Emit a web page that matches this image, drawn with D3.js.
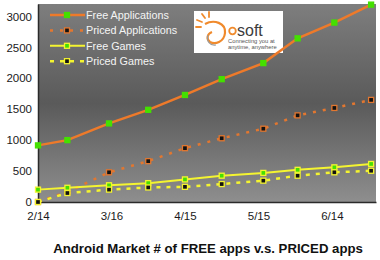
<!DOCTYPE html>
<html>
<head>
<meta charset="utf-8">
<script src="https://cdn.jsdelivr.net/npm/d3@7"></script>
<style>
  html, body { margin: 0; padding: 0; background: #fff; }
  text { font-family: "Liberation Sans", Arial, sans-serif; }
</style>
</head>
<body>
<svg id="chart" width="380" height="260"></svg>
<script>
// data
const dates = ['2/14', '2/26', '3/15', '3/31', '4/15', '4/30', '5/17', '5/31', '6/15', '6/30'];
const freeApps = [915, 1000, 1270, 1490, 1730, 1985, 2245, 2645, 2900, 3190];
const pricedApps = [0, 165, 480, 660, 870, 1030, 1185, 1400, 1520, 1650];
const freeGames = [200, 230, 270, 305, 365, 425, 470, 520, 560, 615];
const pricedGames = [0, 145, 200, 235, 245, 290, 345, 425, 480, 505];
const xTicks = ['2/14', '3/16', '4/15', '5/15', '6/14'];
const yTicks = [0, 500, 1000, 1500, 2000, 2500, 3000];
const seriesNames = ['Free Applications', 'Priced Applications', 'Free Games', 'Priced Games'];
const title = 'Android Market # of FREE apps v.s. PRICED apps';

const parse = d3.timeParse('%m/%d');

const svg = d3.select('#chart');
const plotL = 38, plotR = 376, plotT = 4, plotB = 202;

const x = d3.scaleTime()
    .domain([parse('2/14'), parse('7/02')])
    .range([plotL, plotR]);
const y = d3.scaleLinear()
    .domain([0, 3200])
    .range([plotB, plotT]);

// plot background gradient
const defs = svg.append('defs');
const grad = defs.append('linearGradient')
    .attr('id', 'bg').attr('x1', 0).attr('y1', 0).attr('x2', 0).attr('y2', 1);
grad.append('stop').attr('offset', '0%').attr('stop-color', '#7e7e7e');
grad.append('stop').attr('offset', '50%').attr('stop-color', '#5a5a5a');
grad.append('stop').attr('offset', '100%').attr('stop-color', '#8e8e8e');

svg.append('rect')
    .attr('x', plotL).attr('y', plotT)
    .attr('width', plotR - plotL).attr('height', plotB - plotT)
    .attr('fill', 'url(#bg)');

// axes
const yAxis = d3.axisLeft(y).tickValues(yTicks).tickSize(0).tickPadding(6)
    .tickFormat(d3.format('d'));
const xAxis = d3.axisBottom(x).tickValues(xTicks.map(parse)).tickSize(0).tickPadding(10)
    .tickFormat(d => xTicks.find(t => +parse(t) === +d));

const gy = svg.append('g').attr('transform', `translate(${plotL},0)`).call(yAxis);
const gx = svg.append('g').attr('transform', `translate(0,${plotB})`).call(xAxis);
[gx, gy].forEach(g => {
    g.select('.domain').attr('stroke', '#2a2a2a').attr('stroke-width', 1.5);
    g.selectAll('text').attr('font-size', 11.5).attr('fill', '#1a1a1a')
        .attr('font-family', '"Liberation Sans", Arial, sans-serif');
});

// logo box
const logo = svg.append('g').attr('transform', 'translate(194,11)');
logo.append('rect').attr('width', 89).attr('height', 42).attr('fill', '#fff');
const orange = '#f08a2c';
[[3, 9, 8, 11], [8, 3, 11, 7], [15, 1, 15, 6], [2, 16, 7, 16]].forEach(r => {
    logo.append('line').attr('x1', r[0]).attr('y1', r[1]).attr('x2', r[2]).attr('y2', r[3])
        .attr('stroke', orange).attr('stroke-width', 1.8).attr('stroke-linecap', 'round');
});
logo.append('path')
    .attr('d', 'M11,13 C20,8 32,12 31,22 C30,31 21,34 16,31 C12,28 13,23 18,21')
    .attr('fill', 'none').attr('stroke', orange).attr('stroke-width', 2.2);
logo.append('path')
    .attr('d', 'M14,24 C12,30 16,35 22,34')
    .attr('fill', 'none').attr('stroke', '#9a9a9a').attr('stroke-width', 1.2);
logo.append('circle').attr('cx', 38.5).attr('cy', 20).attr('r', 3.3)
    .attr('fill', 'none').attr('stroke', orange).attr('stroke-width', 1.8);
logo.append('text').attr('x', 43).attr('y', 24.5).attr('font-size', 16)
    .attr('fill', '#3c3c3c').text('soft');
logo.append('text').attr('x', 34).attr('y', 32).attr('font-size', 5.8)
    .attr('fill', '#555').text('Connecting you at');
logo.append('text').attr('x', 34).attr('y', 37.5).attr('font-size', 5.8)
    .attr('fill', '#555').text('anytime, anywhere');

// series
const series = [
    { name: seriesNames[0], values: freeApps, stroke: '#ee7a2a', width: 2.5, dash: null, fill: '#44e000', edge: '#44e000' },
    { name: seriesNames[1], values: pricedApps, stroke: '#e27730', width: 2.5, dash: '3,7', fill: '#111', edge: '#e27730' },
    { name: seriesNames[2], values: freeGames, stroke: '#f4f430', width: 2, dash: null, fill: '#44e000', edge: '#f4f430' },
    { name: seriesNames[3], values: pricedGames, stroke: '#f4f430', width: 2.5, dash: '4,6', fill: '#111', edge: '#f4f430' }
];

const line = d3.line()
    .x(d => x(d.date))
    .y(d => y(d.value));

series.forEach(s => {
    const pts = dates.map((d, i) => ({ date: parse(d), value: s.values[i] }));
    svg.append('path')
        .datum(pts)
        .attr('fill', 'none')
        .attr('stroke', s.stroke)
        .attr('stroke-width', s.width)
        .attr('stroke-dasharray', s.dash)
        .attr('d', line);
});

// markers drawn on top
series.forEach(s => {
    svg.append('g').selectAll('rect')
        .data(dates.map((d, i) => ({ date: parse(d), value: s.values[i] })))
        .join('rect')
        .attr('x', d => x(d.date) - 2.5)
        .attr('y', d => y(d.value) - 2.5)
        .attr('width', 5).attr('height', 5)
        .attr('fill', s.fill)
        .attr('stroke', s.edge)
        .attr('stroke-width', 1.3);
});

// legend
const legend = svg.append('g');
series.forEach((s, i) => {
    const ly = 15 + i * 15.4;
    legend.append('line')
        .attr('x1', 50).attr('x2', 85).attr('y1', ly).attr('y2', ly)
        .attr('stroke', s.stroke).attr('stroke-width', s.width)
        .attr('stroke-dasharray', s.dash);
    legend.append('rect')
        .attr('x', 64.5).attr('y', ly - 2.5).attr('width', 5).attr('height', 5)
        .attr('fill', s.fill).attr('stroke', s.edge).attr('stroke-width', 1.3);
    legend.append('text')
        .attr('x', 86).attr('y', ly + 4)
        .attr('font-size', 10.8).attr('fill', '#f4f4f4')
        .text(s.name);
});

// title
svg.append('text')
    .attr('x', 208).attr('y', 253)
    .attr('text-anchor', 'middle')
    .attr('font-size', 13.2).attr('font-weight', 'bold')
    .attr('fill', '#111')
    .text(title);
</script>
</body>
</html>
